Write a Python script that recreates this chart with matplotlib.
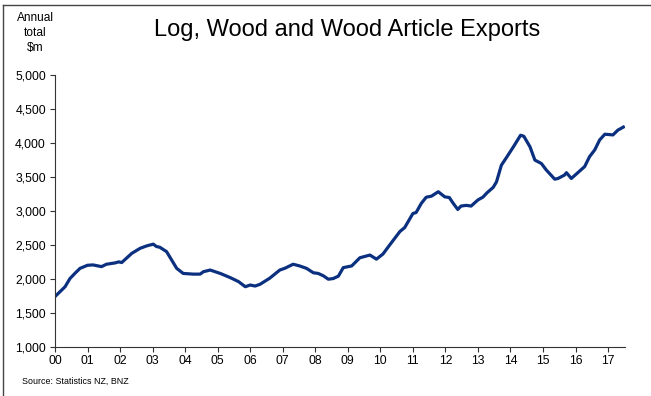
import matplotlib
matplotlib.use("Agg")
import matplotlib.pyplot as plt
from matplotlib.lines import Line2D
from matplotlib.ticker import FuncFormatter

plt.rcParams['font.family'] = ['Liberation Sans', 'DejaVu Sans']

# Річний обсяг експорту (млн $), дата у вигляді десяткового року
years = [2000.00, 2000.15, 2000.31, 2000.46, 2000.62, 2000.77, 2001.00, 2001.17, 2001.43, 2001.58,
         2001.85, 2001.96, 2002.05, 2002.36, 2002.62, 2002.82, 2003.02, 2003.12, 2003.22, 2003.43,
         2003.74, 2003.94, 2004.25, 2004.46, 2004.56, 2004.77, 2005.08, 2005.38, 2005.64, 2005.85,
         2006.00, 2006.15, 2006.30, 2006.60, 2006.91, 2007.06, 2007.32, 2007.52, 2007.73, 2007.94,
         2008.09, 2008.25, 2008.40, 2008.55, 2008.71, 2008.86, 2009.12, 2009.37, 2009.68, 2009.88,
         2010.08, 2010.29, 2010.60, 2010.75, 2011.00, 2011.10, 2011.26, 2011.41, 2011.57, 2011.78,
         2011.98, 2012.12, 2012.24, 2012.38, 2012.48, 2012.64, 2012.79, 2013.00, 2013.15, 2013.28,
         2013.47, 2013.57, 2013.72, 2013.88, 2014.09, 2014.31, 2014.41, 2014.60, 2014.75, 2014.95,
         2015.10, 2015.36, 2015.46, 2015.66, 2015.72, 2015.87, 2016.07, 2016.28, 2016.43, 2016.59,
         2016.74, 2016.90, 2017.15, 2017.30, 2017.47]
exports = [1745, 1815, 1890, 2010, 2090, 2160, 2205, 2210, 2185, 2220,
           2240, 2255, 2245, 2380, 2455, 2490, 2515, 2480, 2470, 2405,
           2160, 2085, 2075, 2075, 2110, 2135, 2085, 2025, 1965, 1890,
           1915, 1900, 1925, 2015, 2135, 2160, 2220, 2195, 2160, 2095,
           2085, 2050, 2000, 2010, 2045, 2170, 2195, 2315, 2355, 2295,
           2370, 2505, 2700, 2760, 2965, 2980, 3115, 3205, 3220, 3285,
           3210, 3200, 3115, 3025, 3075, 3085, 3075, 3165, 3205, 3270,
           3350, 3430, 3675, 3790, 3945, 4115, 4100, 3945, 3750, 3700,
           3605, 3470, 3480, 3530, 3565, 3480, 3565, 3655, 3800, 3900,
           4045, 4130, 4120, 4190, 4235]

year_ticks = list(range(2000, 2018))
year_labels = [f"{y % 100:02d}" for y in year_ticks]
value_ticks = list(range(1000, 5001, 500))

fig = plt.figure(figsize=(6.51, 3.96), dpi=100)
ax = fig.add_axes([55 / 651, 1 - 347.3 / 396, 570 / 651, 272.3 / 396])

ax.plot(years, exports, color='#0b3080', lw=2.3, solid_joinstyle='round')

ax.set_xlim(2000, 2017.52)
ax.set_ylim(1000, 5000)
ax.set_xticks(year_ticks)
ax.set_xticklabels(year_labels)
ax.set_yticks(value_ticks)
ax.yaxis.set_major_formatter(FuncFormatter(lambda v, pos: f"{int(v):,}"))

for side in ['top', 'right']:
    ax.spines[side].set_visible(False)
for side in ['left', 'bottom']:
    ax.spines[side].set_color('#333333')
    ax.spines[side].set_linewidth(0.8)
ax.tick_params(axis='both', direction='out', length=3.5, width=0.8, color='#333333',
               labelsize=8.8, labelcolor='black', pad=3)
ax.tick_params(axis='x', pad=2)

# Заголовок, підпис осі та джерело
fig.text(0.533, 1 - 30 / 396, "Log, Wood and Wood Article Exports", ha='center', va='center', fontsize=17)
fig.text(35 / 651, 1 - 33 / 396, "Annual\ntotal\n$m", ha='center', va='center', fontsize=8.6, linespacing=1.35)
fig.text(22 / 651, 1 - 381 / 396, "Source: Statistics NZ, BNZ", ha='left', va='center', fontsize=6.4)

# Рамка зліва та зверху
fig.add_artist(Line2D([2.5 / 651, 2.5 / 651], [0, 1 - 5 / 396], color='#444444', lw=1.0))
fig.add_artist(Line2D([2.5 / 651, 1], [1 - 5 / 396, 1 - 5 / 396], color='#444444', lw=1.0))

fig.savefig("out.png", dpi=100)
